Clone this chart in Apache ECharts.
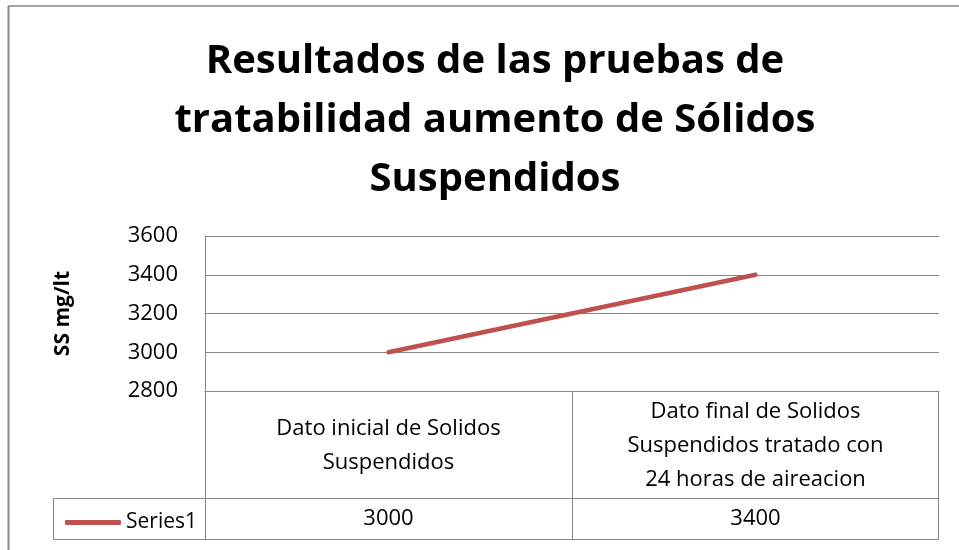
<!DOCTYPE html>
<html>
<head>
<meta charset="utf-8">
<script src="https://cdn.jsdelivr.net/npm/echarts@6/dist/echarts.min.js"></script>
<style>
  html, body { margin: 0; padding: 0; background: #fff; }
  #chart { width: 959px; height: 550px; }
</style>
</head>
<body>
<div id="chart"></div>
<script>
// datos
const categories = [
  'Dato inicial de Solidos\nSuspendidos',
  'Dato final de Solidos\nSuspendidos tratado con\n24 horas de aireacion'
]
const seriesName = 'Series1'
const seriesValues = [3000, 3400]
const yTicks = [2800, 3000, 3200, 3400, 3600]

const lineGray = '#868686'
const font = 'Open Sans, Liberation Sans, sans-serif'

const chart = echarts.init(document.getElementById('chart'))

// lineas de la tabla de datos y marco del grafico
function tableLines() {
  const seg = (x1, y1, x2, y2, w) => ({
    type: 'line',
    shape: { x1: x1, y1: y1, x2: x2, y2: y2 },
    style: { stroke: lineGray, lineWidth: w || 1 },
    silent: true
  })
  const mid = chart.convertToPixel({ xAxisIndex: 0 }, 0)
  const half = (chart.convertToPixel({ xAxisIndex: 0 }, 1) - mid) / 2
  const xDiv = Math.round(mid + half) + 0.5
  return [
    seg(8, 6, 959, 6, 1.5),
    seg(8.5, 6, 8.5, 550, 2),
    seg(205.5, 391, 205.5, 539.5),
    seg(xDiv, 391, xDiv, 539.5),
    seg(938.5, 391, 938.5, 539.5),
    seg(53.5, 498.5, 53.5, 539.5),
    seg(53.5, 498.5, 938.5, 498.5),
    seg(53.5, 539.5, 938.5, 539.5)
  ]
}

const option = {
  animation: false,
  title: {
    text: 'Resultados de las pruebas de\ntratabilidad aumento de Sólidos\nSuspendidos',
    left: 490,
    textAlign: 'center',
    top: 27,
    textStyle: {
      fontFamily: font,
      fontWeight: 'bold',
      fontSize: 40,
      lineHeight: 59,
      color: '#000'
    }
  },
  legend: {
    data: [{ name: seriesName, icon: 'roundRect' }],
    left: 60,
    top: 507,
    itemWidth: 56,
    itemHeight: 5,
    textStyle: { fontFamily: font, fontSize: 21, color: '#000' }
  },
  grid: {
    left: 205,
    right: 20,
    top: 236,
    bottom: 159,
    containLabel: false
  },
  xAxis: [
    {
      type: 'category',
      data: categories,
      boundaryGap: true,
      axisLine: { show: true, lineStyle: { color: lineGray } },
      axisTick: { show: false },
      axisLabel: {
        interval: 0,
        margin: 55,
        verticalAlign: 'middle',
        lineHeight: 34,
        fontFamily: font,
        fontSize: 22,
        color: '#000'
      }
    },
    {
      type: 'category',
      position: 'bottom',
      data: seriesValues.map(String),
      axisLine: { show: false },
      axisTick: { show: false },
      axisLabel: {
        interval: 0,
        margin: 128,
        verticalAlign: 'middle',
        fontFamily: font,
        fontSize: 22,
        color: '#000'
      }
    }
  ],
  yAxis: {
    type: 'value',
    min: yTicks[0],
    max: yTicks[yTicks.length - 1],
    interval: 200,
    name: 'SS mg/lt',
    nameLocation: 'middle',
    nameGap: 131,
    nameTextStyle: { fontFamily: font, fontSize: 21, fontWeight: 'bold', color: '#000' },
    axisLine: { show: true, lineStyle: { color: lineGray } },
    axisTick: { show: false },
    axisLabel: {
      margin: 27,
      fontFamily: font,
      fontSize: 22,
      color: '#000',
      formatter: v => String(v)
    },
    splitLine: { show: true, lineStyle: { color: lineGray, width: 1 } }
  },
  series: [
    {
      name: seriesName,
      type: 'line',
      xAxisIndex: 0,
      data: seriesValues,
      symbol: 'none',
      lineStyle: { color: '#c0504d', width: 4.5, cap: 'round' },
      itemStyle: { color: '#c0504d' }
    }
  ]
}

chart.setOption(option)
chart.setOption({ graphic: tableLines() })
</script>
</body>
</html>
